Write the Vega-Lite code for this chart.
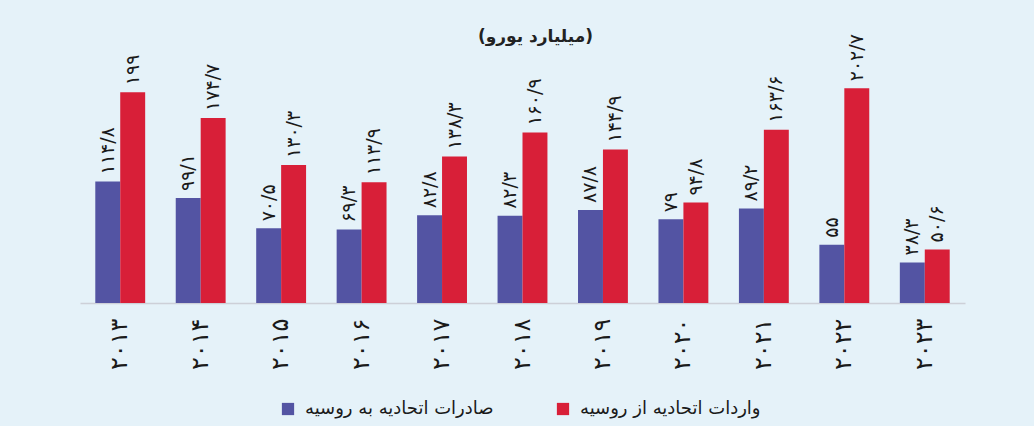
{
  "$schema": "https://vega.github.io/schema/vega-lite/v6.json",
  "autosize": "none",
  "width": 885,
  "height": 233,
  "padding": {"left": 80, "top": 70, "right": 69, "bottom": 123},
  "background": "#e5f2f9",
  "title": {
    "text": "(میلیارد یورو)",
    "font": "DejaVu Sans",
    "fontSize": 17,
    "fontWeight": "bold",
    "color": "#222222",
    "anchor": "middle",
    "frame": "group",
    "offset": -12,
    "dx": 13
  },
  "config": {
    "view": {"stroke": null},
    "font": "DejaVu Sans"
  },
  "data": {
    "values": [
      {"year": "۲۰۱۳", "series": "صادرات اتحادیه به روسیه", "value": 114.8, "label": "۱۱۴/۸"},
      {"year": "۲۰۱۳", "series": "واردات اتحادیه از روسیه", "value": 199, "label": "۱۹۹"},
      {"year": "۲۰۱۴", "series": "صادرات اتحادیه به روسیه", "value": 99.1, "label": "۹۹/۱"},
      {"year": "۲۰۱۴", "series": "واردات اتحادیه از روسیه", "value": 174.7, "label": "۱۷۴/۷"},
      {"year": "۲۰۱۵", "series": "صادرات اتحادیه به روسیه", "value": 70.5, "label": "۷۰/۵"},
      {"year": "۲۰۱۵", "series": "واردات اتحادیه از روسیه", "value": 130.3, "label": "۱۳۰/۳"},
      {"year": "۲۰۱۶", "series": "صادرات اتحادیه به روسیه", "value": 69.3, "label": "۶۹/۳"},
      {"year": "۲۰۱۶", "series": "واردات اتحادیه از روسیه", "value": 113.9, "label": "۱۱۳/۹"},
      {"year": "۲۰۱۷", "series": "صادرات اتحادیه به روسیه", "value": 82.8, "label": "۸۲/۸"},
      {"year": "۲۰۱۷", "series": "واردات اتحادیه از روسیه", "value": 138.3, "label": "۱۳۸/۳"},
      {"year": "۲۰۱۸", "series": "صادرات اتحادیه به روسیه", "value": 82.3, "label": "۸۲/۳"},
      {"year": "۲۰۱۸", "series": "واردات اتحادیه از روسیه", "value": 160.9, "label": "۱۶۰/۹"},
      {"year": "۲۰۱۹", "series": "صادرات اتحادیه به روسیه", "value": 87.8, "label": "۸۷/۸"},
      {"year": "۲۰۱۹", "series": "واردات اتحادیه از روسیه", "value": 144.9, "label": "۱۴۴/۹"},
      {"year": "۲۰۲۰", "series": "صادرات اتحادیه به روسیه", "value": 79, "label": "۷۹"},
      {"year": "۲۰۲۰", "series": "واردات اتحادیه از روسیه", "value": 94.8, "label": "۹۴/۸"},
      {"year": "۲۰۲۱", "series": "صادرات اتحادیه به روسیه", "value": 89.2, "label": "۸۹/۲"},
      {"year": "۲۰۲۱", "series": "واردات اتحادیه از روسیه", "value": 163.6, "label": "۱۶۳/۶"},
      {"year": "۲۰۲۲", "series": "صادرات اتحادیه به روسیه", "value": 55, "label": "۵۵"},
      {"year": "۲۰۲۲", "series": "واردات اتحادیه از روسیه", "value": 202.7, "label": "۲۰۲/۷"},
      {"year": "۲۰۲۳", "series": "صادرات اتحادیه به روسیه", "value": 38.3, "label": "۳۸/۳"},
      {"year": "۲۰۲۳", "series": "واردات اتحادیه از روسیه", "value": 50.6, "label": "۵۰/۶"}
    ]
  },
  "encoding": {
    "x": {
      "field": "year",
      "type": "nominal",
      "sort": null,
      "scale": {"paddingInner": 0.38, "paddingOuter": 0.19},
      "axis": {
        "title": null,
        "labelAngle": -90,
        "labelFontSize": 24,
        "labelColor": "#1a1a1a",
        "labelPadding": 15,
        "ticks": false,
        "domainColor": "#cdd0d8",
        "domainWidth": 1.5
      }
    },
    "xOffset": {
      "field": "series",
      "type": "nominal",
      "sort": ["صادرات اتحادیه به روسیه", "واردات اتحادیه از روسیه"],
      "scale": {"paddingInner": 0, "paddingOuter": 0}
    },
    "y": {
      "field": "value",
      "type": "quantitative",
      "scale": {"domain": [0, 220], "nice": false},
      "axis": null
    }
  },
  "layer": [
    {
      "mark": {"type": "bar"},
      "encoding": {
        "color": {
          "field": "series",
          "type": "nominal",
          "sort": ["صادرات اتحادیه به روسیه", "واردات اتحادیه از روسیه"],
          "scale": {
            "domain": ["صادرات اتحادیه به روسیه", "واردات اتحادیه از روسیه"],
            "range": ["#5354a3", "#d81f38"]
          },
          "legend": {
            "title": null,
            "orient": "none",
            "direction": "horizontal",
            "legendX": 199,
            "legendY": 330,
            "padding": 0,
            "symbolType": "square",
            "symbolSize": 150,
            "symbolStrokeWidth": 0,
            "symbolOpacity": 1,
            "labelFontSize": 18,
            "labelColor": "#1a1a1a",
            "labelLimit": 400,
            "labelOffset": 8,
            "columnPadding": 60
          }
        }
      }
    },
    {
      "mark": {
        "type": "text",
        "angle": -90,
        "align": "left",
        "baseline": "middle",
        "dx": 7,
        "fontSize": 19,
        "color": "#1a1a1a"
      },
      "encoding": {
        "text": {"field": "label"}
      }
    }
  ]
}
